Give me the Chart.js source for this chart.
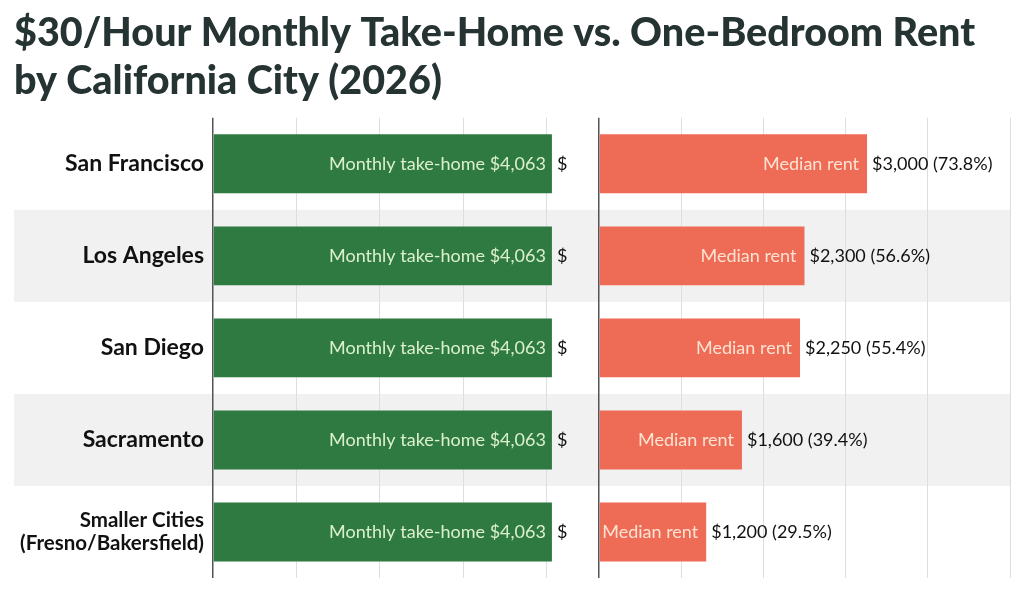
<!DOCTYPE html>
<html>
<head>
<meta charset="utf-8">
<script src="https://cdn.jsdelivr.net/npm/chart.js@4.4.1/dist/chart.umd.min.js"></script>
<style>
    html, body { margin: 0; padding: 0; background: #fff; }
    #wrap { width: 1024px; height: 590px; }
</style>
</head>
<body>
<div id="wrap"><canvas id="rentChart"></canvas></div>
<script>
const cities = ['San Francisco', 'Los Angeles', 'San Diego', 'Sacramento', ['Smaller Cities', '(Fresno/Bakersfield)']];
const takeHome = [4063, 4063, 4063, 4063, 4063];
const medianRent = [3000, 2300, 2250, 1600, 1200];
const takeHomeTicks = [0, 1000, 2000, 3000, 4000];
const rentTicks = [0, 920, 1840, 2760, 3680, 4600];

const FONT = 'Lato';
const money = v => '$' + v.toLocaleString('en-US');

// grey band behind every second row, across both panels
const rowBands = {
    id: 'rowBands',
    beforeDraw(chart) {
        const {ctx, chartArea, scales} = chart;
        const y = scales.y;
        const h = y.getPixelForValue(1) - y.getPixelForValue(0);
        ctx.save();
        ctx.fillStyle = '#f1f1f1';
        cities.forEach((c, i) => {
            if (i % 2 === 1) {
                const cy = y.getPixelForValue(i);
                ctx.fillRect(14, cy - h / 2, chartArea.right - 14, h);
            }
        });
        ctx.restore();
    }
};

const barLabels = {
    id: 'barLabels',
    afterDatasetsDraw(chart) {
        const {ctx} = chart;
        ctx.save();
        ctx.font = `18px ${FONT}`;
        ctx.textBaseline = 'middle';

        chart.getDatasetMeta(0).data.forEach((bar, i) => {
            ctx.textAlign = 'right';
            ctx.fillStyle = '#dcf0cf';
            ctx.fillText('Monthly take-home ' + money(takeHome[i]), bar.x - 6, bar.y);
            ctx.textAlign = 'left';
            ctx.fillStyle = '#111';
            ctx.fillText('$', bar.x + 5, bar.y);
        });

        chart.getDatasetMeta(1).data.forEach((bar, i) => {
            const pct = (medianRent[i] / takeHome[i] * 100).toFixed(1);
            ctx.textAlign = 'right';
            ctx.fillStyle = '#fde3d2';
            ctx.fillText('Median rent', bar.x - 8, bar.y);
            ctx.textAlign = 'left';
            ctx.fillStyle = '#111';
            ctx.fillText(`${money(medianRent[i])} (${pct}%)`, bar.x + 5, bar.y);
        });
        ctx.restore();
    }
};

const gridColor = c => c.tick.value === 0 ? '#555' : '#dedede';
const gridWidth = c => c.tick.value === 0 ? 1.5 : 1;

new Chart(document.getElementById('rentChart'), {
    type: 'bar',
    data: {
        labels: cities,
        datasets: [
            {
                label: 'Monthly take-home',
                data: takeHome,
                xAxisID: 'xTake',
                backgroundColor: '#2e7a40',
                grouped: false,
                barPercentage: 0.64,
                categoryPercentage: 1
            },
            {
                label: 'Median rent',
                data: medianRent,
                xAxisID: 'xRent',
                backgroundColor: '#ee6b56',
                grouped: false,
                barPercentage: 0.64,
                categoryPercentage: 1
            }
        ]
    },
    options: {
        indexAxis: 'y',
        responsive: true,
        maintainAspectRatio: false,
        animation: false,
        layout: {padding: {left: 14, right: 14, top: 10, bottom: 12}},
        scales: {
            y: {
                grid: {display: false, drawTicks: false},
                border: {display: false},
                ticks: {
                    color: '#111',
                    padding: 9,
                    font: c => ({
                        family: FONT,
                        size: c.index === 4 ? 20.5 : 23,
                        weight: 'bold',
                        lineHeight: 1.15
                    })
                },
                afterFit: s => {
                    s.width = 199;
                    s.paddingTop = 0;
                    s.paddingBottom = 0;
                }
            },
            xTake: {
                type: 'linear',
                position: 'bottom',
                stack: 'panels',
                stackWeight: 385,
                min: 0,
                max: 4627,
                afterBuildTicks: s => { s.ticks = takeHomeTicks.map(v => ({value: v})); },
                ticks: {display: false},
                grid: {drawTicks: false, color: gridColor, lineWidth: gridWidth},
                border: {display: false}
            },
            xRent: {
                type: 'linear',
                position: 'bottom',
                stack: 'panels',
                stackWeight: 410,
                min: 0,
                max: 4600,
                afterBuildTicks: s => { s.ticks = rentTicks.map(v => ({value: v})); },
                ticks: {display: false},
                grid: {drawTicks: false, color: gridColor, lineWidth: gridWidth},
                border: {display: false}
            }
        },
        plugins: {
            legend: {display: false},
            tooltip: {enabled: false},
            title: {
                display: true,
                text: ['$30/Hour Monthly Take-Home vs. One-Bedroom Rent', 'by California City (2026)'],
                align: 'start',
                color: '#263333',
                font: {family: FONT, size: 39.5, weight: 900, lineHeight: 1.2},
                padding: {top: 0, bottom: 13}
            }
        }
    },
    plugins: [rowBands, barLabels]
});
</script>
</body>
</html>
